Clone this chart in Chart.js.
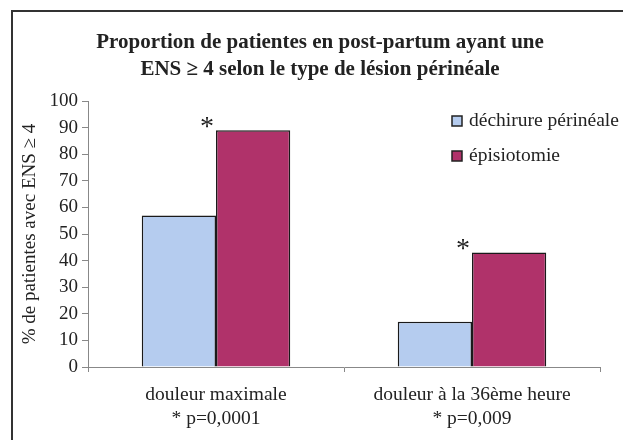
<!DOCTYPE html>
<html>
<head>
<meta charset="utf-8">
<script src="https://cdn.jsdelivr.net/npm/chart.js@4.4.1/dist/chart.umd.min.js"></script>
<style>
  body { margin: 0; background: #fff; }
  #wrap { width: 623px; height: 440px; position: relative; }
</style>
</head>
<body>
<div id="wrap"><canvas id="chart1" width="623" height="440"></canvas></div>
<script>
// data
const titleLines = ['Proportion de patientes en post-partum ayant une', 'ENS ≥ 4 selon le type de lésion périnéale']
const categories = [['douleur maximale', '* p=0,0001'], ['douleur à la 36ème heure', '* p=0,009']]
const dechirure = [57, 17]
const episiotomie = [89, 43]
const stars = ['*', '*']
const yTicks = [0, 10, 20, 30, 40, 50, 60, 70, 80, 90, 100]

const serif = "'Liberation Serif', 'Times New Roman', serif"
const ink = '#222'

// frame, title, legend and the stars over the bars
const extras = {
    id: 'extras',
    beforeDraw(chart) {
        const ctx = chart.ctx
        ctx.save()
        ctx.fillStyle = '#fff'
        ctx.fillRect(0, 0, chart.width, chart.height)
        ctx.strokeStyle = '#333'
        ctx.lineWidth = 2
        ctx.beginPath()
        ctx.moveTo(12, chart.height)
        ctx.lineTo(12, 11)
        ctx.lineTo(chart.width, 11)
        ctx.stroke()
        // title
        ctx.fillStyle = ink
        ctx.font = 'bold 21px ' + serif
        ctx.textAlign = 'center'
        ctx.textBaseline = 'alphabetic'
        titleLines.forEach((t, i) => ctx.fillText(t, 320, 48 + i * 27))
        ctx.restore()
    },
    afterDatasetsDraw(chart) {
        const ctx = chart.ctx
        ctx.save()
        // stars
        const meta = chart.getDatasetMeta(1)
        ctx.font = '28px ' + serif
        ctx.fillStyle = ink
        ctx.textAlign = 'center'
        ctx.textBaseline = 'middle'
        meta.data.forEach((bar, i) => {
            ctx.fillText(stars[i], bar.x - bar.width / 2 - 9, bar.y - 3)
        })
        // legend
        ctx.font = '19.5px ' + serif
        ctx.textAlign = 'left'
        chart.data.datasets.forEach((ds, i) => {
            const y = 121 + i * 35
            ctx.fillStyle = ds.backgroundColor
            ctx.fillRect(452, y - 5, 10, 10)
            ctx.strokeStyle = '#222'
            ctx.lineWidth = 1.5
            ctx.strokeRect(452, y - 5, 10, 10)
            ctx.fillStyle = ink
            ctx.fillText(ds.label, 469, y)
        })
        ctx.restore()
    }
}

document.addEventListener('DOMContentLoaded', () => {
    var chart1 = document.getElementById('chart1').getContext('2d')
    new Chart(chart1, {
        type: 'bar',
        data: {
            labels: categories,
            datasets: [{
                label: 'déchirure périnéale',
                data: dechirure,
                backgroundColor: '#b5ccef',
                borderColor: '#1a1a1a',
                borderWidth: 1.5
            }, {
                label: 'épisiotomie',
                data: episiotomie,
                backgroundColor: '#b0326a',
                borderColor: '#1a1a1a',
                borderWidth: 1.5
            }]
        },
        options: {
            responsive: false,
            animation: false,
            devicePixelRatio: 1,
            layout: { padding: { left: 0, right: 23, top: 101, bottom: 0 } },
            datasets: { bar: { categoryPercentage: 0.58, barPercentage: 1 } },
            plugins: {
                legend: { display: false },
                tooltip: { enabled: false },
                title: { display: false }
            },
            scales: {
                x: {
                    grid: { drawOnChartArea: false, tickLength: 5, color: '#888' },
                    border: { color: '#888', width: 1 },
                    ticks: { color: ink, font: { family: serif, size: 19.5, lineHeight: 1.22 }, padding: 11, maxRotation: 0 },
                    afterFit: (scale) => { scale.height = 73 }
                },
                y: {
                    min: 0,
                    max: 100,
                    afterBuildTicks: (scale) => { scale.ticks = yTicks.map(v => ({ value: v })) },
                    grid: { drawOnChartArea: false, tickLength: 6, color: '#888' },
                    border: { color: '#888', width: 1 },
                    ticks: { color: ink, font: { family: serif, size: 19 }, padding: 4 },
                    title: {
                        display: true,
                        text: '% de patientes avec ENS ≥ 4',
                        color: ink,
                        font: { family: serif, size: 19 },
                        padding: { top: 19, bottom: 0 }
                    },
                    afterFit: (scale) => { scale.width = 88 }
                }
            }
        },
        plugins: [extras]
    })
})
</script>
</body>
</html>
